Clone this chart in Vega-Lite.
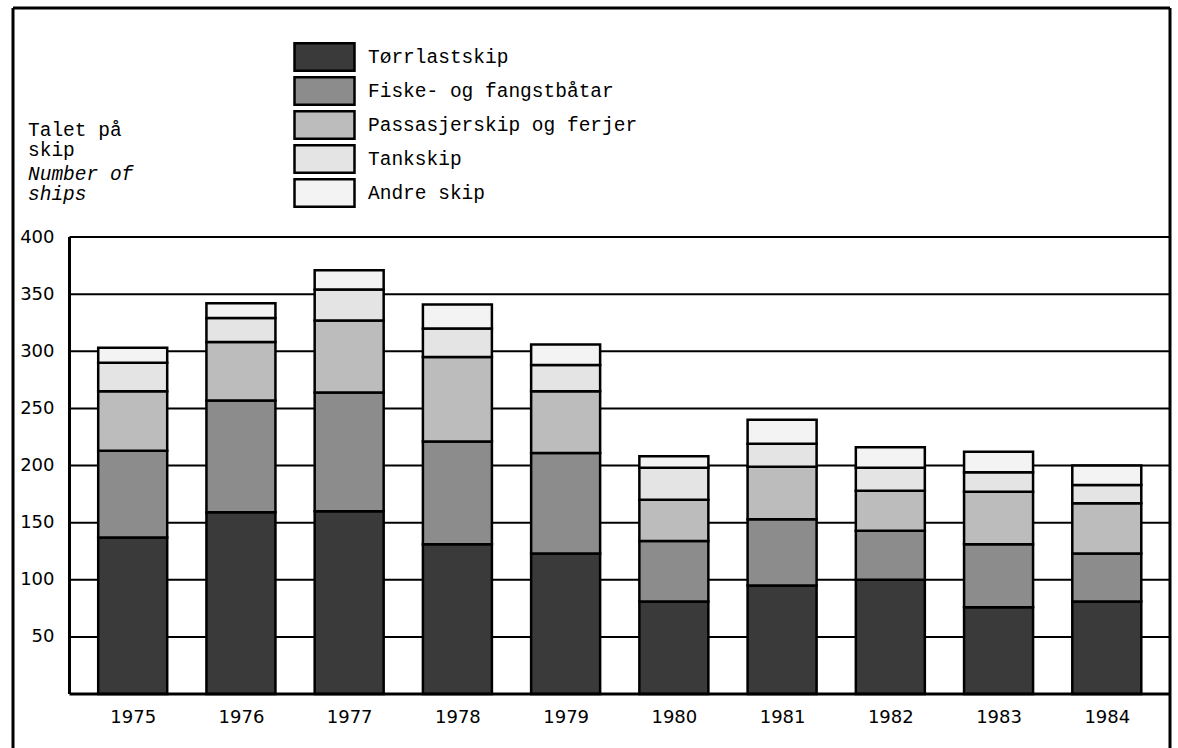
{
  "$schema": "https://vega.github.io/schema/vega-lite/v6.json",
  "width": 1167,
  "height": 740,
  "autosize": {"type": "none"},
  "padding": {"left": 8, "top": 8, "right": 3, "bottom": 0},
  "background": "white",
  "config": {
    "view": {"stroke": null},
    "font": "DejaVu Sans",
    "axisX": {"orient": "bottom", "offset": -54, "domain": false, "ticks": false, "tickSize": 0, "grid": false, "labelFont": "DejaVu Sans", "labelFontSize": 18, "labelColor": "black", "labelPadding": 14, "labelFlush": false, "labelOverlap": false},
    "axisY": {"orient": "left", "offset": -57, "domain": false, "ticks": false, "tickSize": 0, "grid": false, "labelFont": "DejaVu Sans", "labelFontSize": 18, "labelColor": "black", "labelPadding": 11, "labelFlush": false, "labelOverlap": false}
  },
  "title": {
    "text": ["Talet på", "skip"],
    "subtitle": ["Number of", "ships"],
    "anchor": "start",
    "frame": "group",
    "orient": "top",
    "dx": 20,
    "dy": 198,
    "offset": 0,
    "font": "Liberation Mono",
    "fontSize": 19.5,
    "fontWeight": "normal",
    "color": "black",
    "lineHeight": 20,
    "subtitleFont": "Liberation Mono",
    "subtitleFontSize": 19.5,
    "subtitleFontStyle": "italic",
    "subtitleColor": "black",
    "subtitleLineHeight": 20,
    "subtitlePadding": 5
  },
  "datasets": {
    "ships": [
      {"year": 1975, "type": "Tørrlastskip", "n": 137},
      {"year": 1975, "type": "Fiske- og fangstbåtar", "n": 76},
      {"year": 1975, "type": "Passasjerskip og ferjer", "n": 52},
      {"year": 1975, "type": "Tankskip", "n": 25},
      {"year": 1975, "type": "Andre skip", "n": 13},
      {"year": 1976, "type": "Tørrlastskip", "n": 159},
      {"year": 1976, "type": "Fiske- og fangstbåtar", "n": 98},
      {"year": 1976, "type": "Passasjerskip og ferjer", "n": 51},
      {"year": 1976, "type": "Tankskip", "n": 21},
      {"year": 1976, "type": "Andre skip", "n": 13},
      {"year": 1977, "type": "Tørrlastskip", "n": 160},
      {"year": 1977, "type": "Fiske- og fangstbåtar", "n": 104},
      {"year": 1977, "type": "Passasjerskip og ferjer", "n": 63},
      {"year": 1977, "type": "Tankskip", "n": 27},
      {"year": 1977, "type": "Andre skip", "n": 17},
      {"year": 1978, "type": "Tørrlastskip", "n": 131},
      {"year": 1978, "type": "Fiske- og fangstbåtar", "n": 90},
      {"year": 1978, "type": "Passasjerskip og ferjer", "n": 74},
      {"year": 1978, "type": "Tankskip", "n": 25},
      {"year": 1978, "type": "Andre skip", "n": 21},
      {"year": 1979, "type": "Tørrlastskip", "n": 123},
      {"year": 1979, "type": "Fiske- og fangstbåtar", "n": 88},
      {"year": 1979, "type": "Passasjerskip og ferjer", "n": 54},
      {"year": 1979, "type": "Tankskip", "n": 23},
      {"year": 1979, "type": "Andre skip", "n": 18},
      {"year": 1980, "type": "Tørrlastskip", "n": 81},
      {"year": 1980, "type": "Fiske- og fangstbåtar", "n": 53},
      {"year": 1980, "type": "Passasjerskip og ferjer", "n": 36},
      {"year": 1980, "type": "Tankskip", "n": 28},
      {"year": 1980, "type": "Andre skip", "n": 10},
      {"year": 1981, "type": "Tørrlastskip", "n": 95},
      {"year": 1981, "type": "Fiske- og fangstbåtar", "n": 58},
      {"year": 1981, "type": "Passasjerskip og ferjer", "n": 46},
      {"year": 1981, "type": "Tankskip", "n": 20},
      {"year": 1981, "type": "Andre skip", "n": 21},
      {"year": 1982, "type": "Tørrlastskip", "n": 100},
      {"year": 1982, "type": "Fiske- og fangstbåtar", "n": 43},
      {"year": 1982, "type": "Passasjerskip og ferjer", "n": 35},
      {"year": 1982, "type": "Tankskip", "n": 20},
      {"year": 1982, "type": "Andre skip", "n": 18},
      {"year": 1983, "type": "Tørrlastskip", "n": 76},
      {"year": 1983, "type": "Fiske- og fangstbåtar", "n": 55},
      {"year": 1983, "type": "Passasjerskip og ferjer", "n": 46},
      {"year": 1983, "type": "Tankskip", "n": 17},
      {"year": 1983, "type": "Andre skip", "n": 18},
      {"year": 1984, "type": "Tørrlastskip", "n": 81},
      {"year": 1984, "type": "Fiske- og fangstbåtar", "n": 42},
      {"year": 1984, "type": "Passasjerskip og ferjer", "n": 44},
      {"year": 1984, "type": "Tankskip", "n": 16},
      {"year": 1984, "type": "Andre skip", "n": 17}
    ],
    "types": [
      {"type": "Tørrlastskip", "rank": 1},
      {"type": "Fiske- og fangstbåtar", "rank": 2},
      {"type": "Passasjerskip og ferjer", "rank": 3},
      {"type": "Tankskip", "rank": 4},
      {"type": "Andre skip", "rank": 5}
    ],
    "grid": [
      {"v": 50}, {"v": 100}, {"v": 150}, {"v": 200},
      {"v": 250}, {"v": 300}, {"v": 350}, {"v": 400}
    ],
    "one": [{}]
  },
  "layer": [
    {
      "data": {"name": "grid"},
      "mark": {"type": "rule", "color": "black", "strokeWidth": 2},
      "encoding": {
        "x": {"datum": 1974.416, "type": "quantitative", "scale": {"domain": [1973.894, 1984.584], "nice": false, "zero": false}, "axis": {"title": null, "values": [1975, 1976, 1977, 1978, 1979, 1980, 1981, 1982, 1983, 1984], "format": "d"}},
        "x2": {"datum": 1984.584},
        "y": {"field": "v", "type": "quantitative", "scale": {"domain": [-47.26, 600.44], "nice": false, "zero": false}, "axis": {"title": null, "values": [50, 100, 150, 200, 250, 300, 350, 400]}}
      }
    },
    {
      "data": {"name": "ships"},
      "transform": [
        {"lookup": "type", "from": {"data": {"name": "types"}, "key": "type", "fields": ["rank"]}}
      ],
      "mark": {"type": "bar", "orient": "vertical", "size": 69, "stroke": "black", "strokeWidth": 2.5},
      "encoding": {
        "x": {
          "field": "year", "type": "quantitative",
          "scale": {"domain": [1973.894, 1984.584], "nice": false, "zero": false},
          "axis": {"title": null, "values": [1975, 1976, 1977, 1978, 1979, 1980, 1981, 1982, 1983, 1984], "format": "d"}
        },
        "y": {
          "field": "n", "type": "quantitative", "stack": "zero",
          "scale": {"domain": [-47.26, 600.44], "nice": false, "zero": false},
          "axis": {"title": null, "values": [50, 100, 150, 200, 250, 300, 350, 400]}
        },
        "order": {"field": "rank", "type": "quantitative", "sort": "ascending"},
        "color": {
          "field": "type", "type": "nominal",
          "sort": ["Tørrlastskip", "Fiske- og fangstbåtar", "Passasjerskip og ferjer", "Tankskip", "Andre skip"],
          "scale": {
            "domain": ["Tørrlastskip", "Fiske- og fangstbåtar", "Passasjerskip og ferjer", "Tankskip", "Andre skip"],
            "range": ["#3a3a3a", "#8c8c8c", "#bcbcbc", "#e4e4e4", "#f3f3f3"]
          },
          "legend": {
            "title": null, "orient": "none", "legendX": 285, "legendY": 32,
            "symbolType": "M-1,-0.46H1V0.46H-1Z", "symbolSize": 3600,
            "symbolStrokeColor": "black", "symbolStrokeWidth": 2.5, "symbolOpacity": 1,
            "labelFont": "Liberation Mono", "labelFontSize": 19.5, "labelColor": "black",
            "labelOffset": 12, "rowPadding": 0, "clipHeight": 34, "labelLimit": 500
          }
        }
      }
    },
    {
      "data": {"name": "one"},
      "mark": {"type": "rule", "color": "black", "strokeWidth": 3},
      "encoding": {
        "x": {"datum": 1974.416, "type": "quantitative", "scale": {"domain": [1973.894, 1984.584], "nice": false, "zero": false}, "axis": {"title": null, "values": [1975, 1976, 1977, 1978, 1979, 1980, 1981, 1982, 1983, 1984], "format": "d"}},
        "y": {"datum": 0, "type": "quantitative", "scale": {"domain": [-47.26, 600.44], "nice": false, "zero": false}, "axis": {"title": null, "values": [50, 100, 150, 200, 250, 300, 350, 400]}},
        "y2": {"datum": 400}
      }
    },
    {
      "data": {"name": "one"},
      "mark": {"type": "rule", "color": "black", "strokeWidth": 3},
      "encoding": {
        "x": {"datum": 1974.416, "type": "quantitative", "scale": {"domain": [1973.894, 1984.584], "nice": false, "zero": false}, "axis": {"title": null, "values": [1975, 1976, 1977, 1978, 1979, 1980, 1981, 1982, 1983, 1984], "format": "d"}},
        "x2": {"datum": 1984.584},
        "y": {"datum": 0, "type": "quantitative", "scale": {"domain": [-47.26, 600.44], "nice": false, "zero": false}, "axis": {"title": null, "values": [50, 100, 150, 200, 250, 300, 350, 400]}}
      }
    },
    {
      "data": {"name": "one"},
      "mark": {"type": "rule", "color": "black", "strokeWidth": 3},
      "encoding": {
        "x": {"datum": 1973.894, "type": "quantitative", "scale": {"domain": [1973.894, 1984.584], "nice": false, "zero": false}, "axis": {"title": null, "values": [1975, 1976, 1977, 1978, 1979, 1980, 1981, 1982, 1983, 1984], "format": "d"}},
        "y": {"datum": -47.26, "type": "quantitative", "scale": {"domain": [-47.26, 600.44], "nice": false, "zero": false}, "axis": {"title": null, "values": [50, 100, 150, 200, 250, 300, 350, 400]}},
        "y2": {"datum": 600.44}
      }
    },
    {
      "data": {"name": "one"},
      "mark": {"type": "rule", "color": "black", "strokeWidth": 3},
      "encoding": {
        "x": {"datum": 1984.584, "type": "quantitative", "scale": {"domain": [1973.894, 1984.584], "nice": false, "zero": false}, "axis": {"title": null, "values": [1975, 1976, 1977, 1978, 1979, 1980, 1981, 1982, 1983, 1984], "format": "d"}},
        "y": {"datum": -47.26, "type": "quantitative", "scale": {"domain": [-47.26, 600.44], "nice": false, "zero": false}, "axis": {"title": null, "values": [50, 100, 150, 200, 250, 300, 350, 400]}},
        "y2": {"datum": 600.44}
      }
    },
    {
      "data": {"name": "one"},
      "mark": {"type": "rule", "color": "black", "strokeWidth": 3},
      "encoding": {
        "x": {"datum": 1973.894, "type": "quantitative", "scale": {"domain": [1973.894, 1984.584], "nice": false, "zero": false}, "axis": {"title": null, "values": [1975, 1976, 1977, 1978, 1979, 1980, 1981, 1982, 1983, 1984], "format": "d"}},
        "x2": {"datum": 1984.584},
        "y": {"datum": 600.44, "type": "quantitative", "scale": {"domain": [-47.26, 600.44], "nice": false, "zero": false}, "axis": {"title": null, "values": [50, 100, 150, 200, 250, 300, 350, 400]}}
      }
    }
  ]
}
